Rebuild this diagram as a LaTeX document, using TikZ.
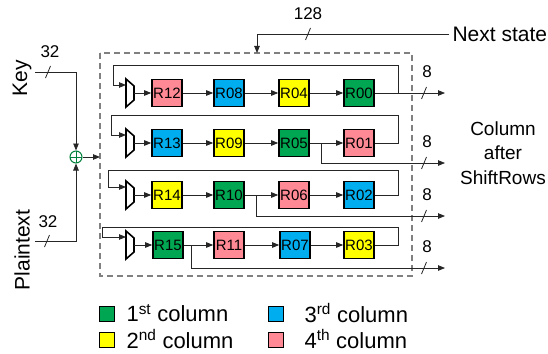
\documentclass[tikz,border=0pt]{standalone}
\usepackage{fontspec}
\setmainfont{Liberation Sans}
\usetikzlibrary{arrows.meta,positioning}

\definecolor{colA}{RGB}{0,166,81}
\definecolor{colB}{RGB}{255,255,0}
\definecolor{colC}{RGB}{0,174,239}
\definecolor{colD}{RGB}{255,137,148}
\definecolor{xorgreen}{RGB}{0,128,60}
\definecolor{boxgray}{RGB}{128,128,128}

\begin{document}
\begin{tikzpicture}[x=1pt, y=-1pt, font=\fontsize{15}{15}\selectfont,
  wire/.style={black!85, line width=0.8pt},
  arr/.style={wire, -{Triangle[length=7pt,width=5.5pt]}},
  reg/.style={draw, line width=1.6pt, minimum width=30pt, minimum height=27pt, inner sep=0pt},
  mux/.style={draw, line width=1.6pt, line join=miter},
  big/.style={font=\fontsize{21}{25}\selectfont},
  num/.style={font=\fontsize{17}{17}\selectfont},
  legsq/.style={draw, line width=1.4pt, minimum size=15pt, inner sep=0pt},
  xor/.style={circle, draw=xorgreen, line width=1pt, minimum size=12pt, inner sep=0pt,
    path picture={\draw[xorgreen, line width=1pt]
      (path picture bounding box.north) -- (path picture bounding box.south)
      (path picture bounding box.west) -- (path picture bounding box.east);}}]
  \useasboundingbox (0,0) rectangle (548,353);
  % state block outline
  \draw[boxgray, line width=2pt, dash pattern=on 6pt off 4pt] (100,53) rectangle (412,276);
  % registers, one row at a time
  \foreach \c/\x/\n/\f in {1/167/12/colD,2/229/08/colC,3/294/04/colB,4/359/00/colA}
    \node[reg, fill=\f] (r1\c) at (\x,93) {R\n};
  \foreach \c/\x/\n/\f in {1/167/13/colC,2/229/09/colB,3/294/05/colA,4/359/01/colD}
    \node[reg, fill=\f] (r2\c) at (\x,143) {R\n};
  \foreach \c/\x/\n/\f in {1/167/14/colB,2/229/10/colA,3/294/06/colD,4/359/02/colC}
    \node[reg, fill=\f] (r3\c) at (\x,195) {R\n};
  \foreach \c/\x/\n/\f in {1/168/15/colA,2/229/11/colD,3/295/07/colC,4/359/03/colB}
    \node[reg, fill=\f] (r4\c) at (\x,245) {R\n};
  % muxes, shift chain and feedback loops
  \foreach \r/\y/\lx/\ly in {1/93/113/65,2/143/111/115,3/195/108/170,4/245/102/227} {
    \draw[mux] (126,\y-14) -- (134,\y-7) -- (134,\y+7) -- (126,\y+14) -- cycle;
    \coordinate (mi\r) at (126,\y-8);
    \coordinate (mo\r) at (134,\y);
    \draw[arr] (mo\r) -- (r\r1);
    \draw[arr] (r\r1) -- (r\r2);
    \draw[arr] (r\r2) -- (r\r3);
    \draw[arr] (r\r3) -- (r\r4);
    \draw[arr] (r\r4.east) -| (398,\ly) -| (\lx,\y-8) -- (mi\r);
  }
  % column outputs (taps after shift)
  \coordinate (o1) at (445,93);
  \coordinate (t2) at (321,143);
  \coordinate (o2) at (445,163);
  \coordinate (t3) at (256,195);
  \coordinate (o3) at (445,216);
  \coordinate (t4) at (191,245);
  \coordinate (o4) at (445,268);
  \draw[arr] (r14.east) -- (o1);
  \draw[arr] (t2) |- (o2);
  \draw[arr] (t3) |- (o3);
  \draw[arr] (t4) |- (o4);
  \foreach \i/\y in {1/93,2/163,3/216,4/268} {
    \draw[wire] (424,\y) +(-2.5,6) -- +(2.5,-6);
    \node[num] (w\i) at (427,\y-21) {8};
  }
  \node[align=center, font=\fontsize{19}{24.5}\selectfont] (col) at (503,153) {Column\\after\\ShiftRows};
  % next state feedback
  \node[big, anchor=west] (ns) at (449,34) {Next state};
  \coordinate (nt) at (257,53);
  \draw[arr] (ns.west) -| (nt);
  \draw[wire] (308,34) +(-2.5,6) -- +(2.5,-6);
  \node[num] (wn) at (308,14) {128};
  % key + plaintext xor
  \node[xor] (xr) at (76,157) {};
  \coordinate (bi) at (100,157);
  \draw[arr] (xr) -- (bi);
  \node[big, rotate=90] (key) at (22,78) {Key};
  \node[big, rotate=90] (pt) at (22,250) {Plaintext};
  \coordinate (kin) at (35,72);
  \coordinate (pin) at (35,241);
  \draw[arr] (kin) -| (xr);
  \draw[arr] (pin) -| (xr);
  \draw[wire] (48,72) +(-2.5,6) -- +(2.5,-6);
  \draw[wire] (47,241) +(-2.5,6) -- +(2.5,-6);
  \node[num] (wk) at (50,52) {32};
  \node[num] (wp) at (48,222) {32};
  % legend
  \node[legsq, fill=colA] (l1) at (107,314) {};
  \node[legsq, fill=colB] (l2) at (107,340) {};
  \node[legsq, fill=colC] (l3) at (276,314) {};
  \node[legsq, fill=colD] (l4) at (276,340) {};
  \node[anchor=west, font=\fontsize{22}{22}\selectfont] (n1) at (123,313) {1\textsuperscript{st} column};
  \node[anchor=west, font=\fontsize{22}{22}\selectfont] (n2) at (123,339) {2\textsuperscript{nd} column};
  \node[anchor=west, font=\fontsize{22}{22}\selectfont] (n3) at (301,313) {3\textsuperscript{rd} column};
  \node[anchor=west, font=\fontsize{22}{22}\selectfont] (n4) at (301,339) {4\textsuperscript{th} column};
\end{tikzpicture}
\end{document}
